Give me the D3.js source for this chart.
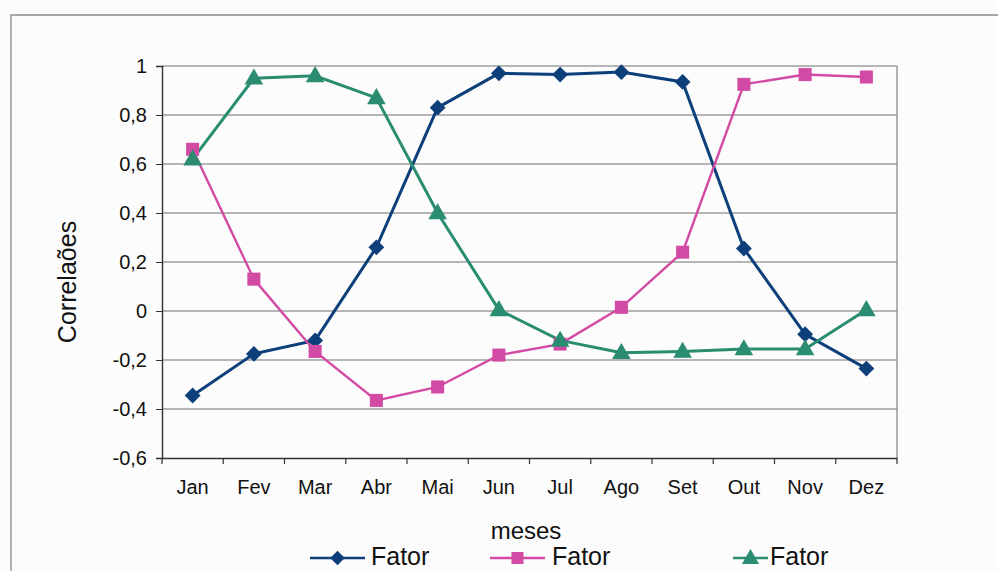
<!DOCTYPE html>
<html><head><meta charset="utf-8">
<script src="https://cdn.jsdelivr.net/npm/d3@7"></script>
<style>
html,body{margin:0;padding:0;background:#fcfcfc;}
svg{display:block;font-family:"Liberation Sans",Arial,sans-serif;}
</style></head>
<body>
<svg id="c" width="998" height="571"></svg>
<script>
const months = ["Jan","Fev","Mar","Abr","Mai","Jun","Jul","Ago","Set","Out","Nov","Dez"];
const fator1 = [-0.345,-0.175,-0.12,0.26,0.83,0.97,0.965,0.975,0.935,0.255,-0.095,-0.235];
const fator2 = [0.66,0.13,-0.165,-0.365,-0.31,-0.18,-0.135,0.015,0.24,0.925,0.965,0.955];
const fator3 = [0.62,0.95,0.96,0.87,0.40,0.005,-0.12,-0.17,-0.165,-0.155,-0.155,0.005];
const yTicks = [-0.6,-0.4,-0.2,0,0.2,0.4,0.6,0.8,1];
const seriesNames = ["Fator","Fator","Fator"];

const svg = d3.select("#c");
const L=162, R=897, T=66, B=458;
const x = d3.scaleBand().domain(months).range([L,R]);
const y = d3.scaleLinear().domain([-0.6,1]).range([B,T]);
const fmt = v => String(+v.toFixed(1)).replace(".",",");
const FF = "Liberation Sans, Arial, sans-serif";

// outer border
svg.append("path").attr("d","M11,571 L11,15 L998,15").attr("fill","none").attr("stroke","#8a8a8a").attr("stroke-width",1.3);

// grid
const g = svg.append("g");
g.selectAll("line.grid").data(yTicks.slice(1)).join("line")
  .attr("x1",L).attr("x2",R).attr("y1",d=>y(d)).attr("y2",d=>y(d))
  .attr("stroke","#6e6e6e").attr("stroke-width",1.1);
g.append("line").attr("x1",R).attr("x2",R).attr("y1",T).attr("y2",B).attr("stroke","#8a8a8a").attr("stroke-width",1.3);

// y axis
const ya = svg.append("g").attr("transform",`translate(${L},0)`)
  .call(d3.axisLeft(y).tickValues(yTicks).tickFormat(fmt).tickSize(6).tickPadding(9));
ya.attr("font-size",20).attr("font-family",FF);
ya.select(".domain").attr("stroke","#333").attr("stroke-width",1.4);
ya.selectAll(".tick line").attr("stroke","#333");
ya.selectAll("text").attr("fill","#111");

// x axis
const xa = svg.append("g").attr("transform",`translate(0,${B})`)
  .call(d3.axisBottom(x).tickSize(0).tickPadding(22));
xa.attr("font-size",20).attr("font-family",FF);
xa.select(".domain").attr("stroke","#333").attr("stroke-width",1.4);
xa.selectAll("text").attr("fill","#111");
const bounds = months.map(m=>x(m)).concat([R]);
svg.selectAll("line.xt").data(bounds).join("line")
  .attr("x1",d=>d).attr("x2",d=>d).attr("y1",B).attr("y2",B+6).attr("stroke","#333").attr("stroke-width",1.2);

// titles
svg.append("text").attr("x",526).attr("y",539).attr("text-anchor","middle").attr("font-size",24).attr("fill","#111").text("meses");
svg.append("text").attr("transform","translate(76,282) rotate(-90)").attr("text-anchor","middle").attr("font-size",25).attr("fill","#111").text("Correlaões");

const colors = ["#0d3f7a","#d24aa4","#2a8c70"];
const data = [fator1,fator2,fator3];
const cx = m => x(m)+x.bandwidth()/2;
const line = d3.line().x((d,i)=>cx(months[i])).y(d=>y(d));
const shapes = [d3.symbolDiamond2, d3.symbolSquare, d3.symbolTriangle];
const sizes = [160,170,150];

data.forEach((vals,k)=>{
  svg.append("path").datum(vals).attr("d",line).attr("fill","none").attr("stroke",colors[k]).attr("stroke-width",k===1?2.4:3);
});
data.forEach((vals,k)=>{
  svg.selectAll(null).data(vals).join("path")
    .attr("transform",(d,i)=>`translate(${cx(months[i])},${y(d)+(k===2?1:0)})`)
    .attr("d",d3.symbol().type(shapes[k]).size(sizes[k]))
    .attr("fill",colors[k]);
});

// legend
const leg = [{x1:310,x2:365,tx:371},{x1:490,x2:545,tx:552},{x1:733,x2:768,tx:770}];
leg.forEach((l,k)=>{
  const ly=558;
  svg.append("line").attr("x1",l.x1).attr("x2",l.x2).attr("y1",ly).attr("y2",ly).attr("stroke",colors[k]).attr("stroke-width",2.6);
  svg.append("path").attr("transform",`translate(${(l.x1+l.x2)/2},${ly+(k===2?1:0)})`)
    .attr("d",d3.symbol().type(shapes[k]).size(sizes[k]*0.85)).attr("fill",colors[k]);
  svg.append("text").attr("x",l.tx).attr("y",565).attr("font-size",25).attr("fill","#111").text(seriesNames[k]);
});
</script>
</body></html>
